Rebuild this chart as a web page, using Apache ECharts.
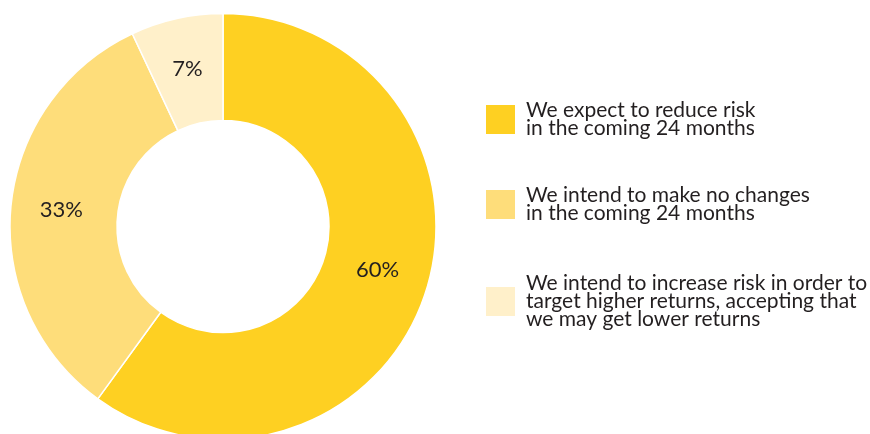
<!DOCTYPE html>
<html>
<head>
<meta charset="utf-8">
<script src="https://cdn.jsdelivr.net/npm/echarts@6/dist/echarts.min.js"></script>
<style>
  html, body { margin: 0; padding: 0; background: #ffffff; }
  #chart { width: 870px; height: 434px; }
</style>
</head>
<body>
<div id="chart"></div>
<script>
// Risk appetite over the next 24 months (share of respondents, %)
const categories = [
  'We expect to reduce risk\nin the coming 24 months',
  'We intend to make no changes\nin the coming 24 months',
  'We intend to increase risk in order to\ntarget higher returns, accepting that\nwe may get lower returns'
];
const shares = [60, 33, 7];
const sliceColors = ['#FED022', '#FEDD7A', '#FFF0CA'];

// small vertical nudges for the in-ring percentage labels (px)
const labelNudgeY = [-7, -1, 1];

const FONT = 'Lato, "Noto Sans", sans-serif';
const TEXT = '#231F20';

const chart = echarts.init(document.getElementById('chart'), null, { renderer: 'canvas' });

// one legend block per answer so each can sit at its own height
const legendTops = [99.5, 184.5, 272.5];
const legends = categories.map((name, i) => ({
  data: [name],
  orient: 'vertical',
  left: 484,
  top: legendTops[i],
  itemWidth: 31,
  itemHeight: 31,
  itemGap: 10,
  icon: 'rect',
  selectedMode: false,
  padding: 0,
  textStyle: {
    fontFamily: FONT,
    fontSize: 21,
    lineHeight: 18,
    color: TEXT,
    padding: [4, 0, 0, 5]
  }
}));

chart.setOption({
  animation: false,
  backgroundColor: '#ffffff',
  color: sliceColors,
  legend: legends,
  series: [{
    type: 'pie',
    center: [223, 226.5],
    radius: [106, 213],
    startAngle: 90,
    clockwise: true,
    avoidLabelOverlap: false,
    itemStyle: { borderColor: '#ffffff', borderWidth: 1.5 },
    label: {
      show: true,
      position: 'inside',
      formatter: '{c}%',
      fontFamily: FONT,
      fontSize: 22,
      color: TEXT
    },
    labelLayout: (p) => ({ dy: labelNudgeY[p.dataIndex] || 0 }),
    labelLine: { show: false },
    emphasis: { disabled: true },
    data: categories.map((name, i) => ({ name, value: shares[i] }))
  }]
});
</script>
</body>
</html>
